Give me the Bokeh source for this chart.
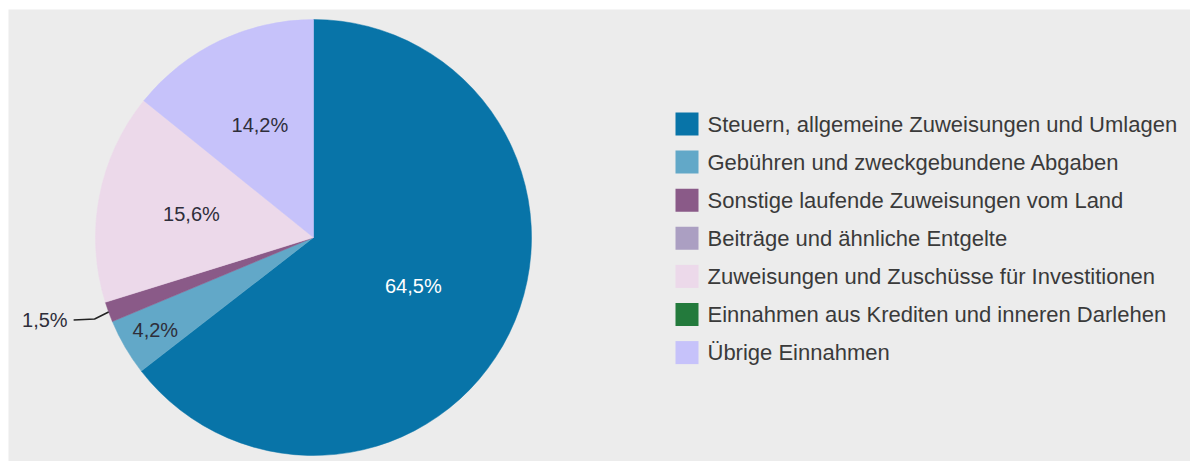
import numpy as np
from bokeh.plotting import figure
from bokeh.models import ColumnDataSource, Range1d
from bokeh.core.properties import value
from bokeh.embed import file_html
from bokeh.resources import INLINE

# ---- data ----
categories = [
    "Steuern, allgemeine Zuweisungen und Umlagen",
    "Gebühren und zweckgebundene Abgaben",
    "Sonstige laufende Zuweisungen vom Land",
    "Beiträge und ähnliche Entgelte",
    "Zuweisungen und Zuschüsse für Investitionen",
    "Einnahmen aus Krediten und inneren Darlehen",
    "Übrige Einnahmen",
]
shares = [64.5, 4.2, 1.5, 0.0, 15.6, 0.0, 14.2]
colors = ["#0874a8", "#62a8c8", "#8a5a88", "#ab9fc2", "#ecd9ea", "#237a3c", "#c6c2fa"]

# ---- layout ----
W, H = 1190, 461
ML, MT = 8, 9
FW, FH = W - ML, H - MT
BG = "#ececec"
FONT = value("Liberation Sans")
cx, cy, R = 305.0, 224.0, 218.0

p = figure(width=W, height=H, x_range=Range1d(0, FW), y_range=Range1d(0, FH),
           output_backend="svg", toolbar_location=None,
           min_border_left=ML, min_border_top=MT, min_border_right=0, min_border_bottom=0)
p.axis.visible = False
p.grid.visible = False
p.outline_line_color = None
p.background_fill_color = BG
p.border_fill_color = "#ffffff"

vals = np.array(shares, dtype=float)
frac = vals / vals.sum()
cum = np.cumsum(frac)
start = cum - frac
start_angle = np.pi / 2 - 2 * np.pi * start
end_angle = np.pi / 2 - 2 * np.pi * cum
mid = np.pi / 2 - 2 * np.pi * (start + frac / 2)

nz = vals > 0
wsrc = ColumnDataSource(dict(
    start=start_angle[nz], end=end_angle[nz],
    color=[c for c, k in zip(colors, nz) if k],
))
p.wedge(x=cx, y=cy, radius=R, start_angle="start", end_angle="end",
        direction="clock", fill_color="color", line_color="color",
        line_width=0.5, source=wsrc)


def lum(hexc):
    r, g, b = (int(hexc[i:i + 2], 16) for i in (1, 3, 5))
    return 0.299 * r + 0.587 * g + 0.114 * b


lab_text = [f"{v:.1f}".replace(".", ",") + "%" for v in shares]
in_x, in_y, in_t, in_c = [], [], [], []
out_x, out_y, out_t = [], [], []
lead_xs, lead_ys = [], []
for i, v in enumerate(shares):
    if v <= 0:
        continue
    a = mid[i]
    if v >= 30:
        f = 0.51
    elif v >= 10:
        f = 0.57
    elif v >= 3:
        f = 0.84
    else:
        f = None
    if f is not None:
        in_x.append(cx + f * R * np.cos(a))
        in_y.append(cy + f * R * np.sin(a))
        in_t.append(lab_text[i])
        in_c.append("#ffffff" if lum(colors[i]) < 120 else "#2e2e3a")
    else:
        ex, ey = cx + R * np.cos(a), cy + R * np.sin(a)
        bx, by = ex - 14, ey - 7
        tx, ty = bx - 21, by - 1
        lead_xs.append([ex, bx, tx])
        lead_ys.append([ey, by, ty])
        out_x.append(tx - 6)
        out_y.append(ty)
        out_t.append(lab_text[i])

p.text(x=in_x, y=in_y, text=in_t, text_color=in_c, text_align="center",
       text_baseline="middle", text_font=FONT, text_font_size="20px")
p.multi_line(xs=lead_xs, ys=lead_ys, line_color="#222222", line_width=1.5)
p.text(x=out_x, y=out_y, text=out_t, text_color="#2e2e3a", text_align="right",
       text_baseline="middle", text_font=FONT, text_font_size="20px")

# ---- legend ----
sq = 23
lx0 = 667
row0 = 337.5
step = 38.1
ys = [row0 - step * i for i in range(len(categories))]
p.rect(x=[lx0 + sq / 2] * len(categories), y=ys, width=sq, height=sq,
       fill_color=colors, line_color=None)
p.text(x=[lx0 + 32] * len(categories), y=ys, text=categories, text_color="#3a3a3a",
       text_align="left", text_baseline="middle", text_font=FONT,
       text_font_size="22px")

open("out.html", "w").write(file_html(p, INLINE))
